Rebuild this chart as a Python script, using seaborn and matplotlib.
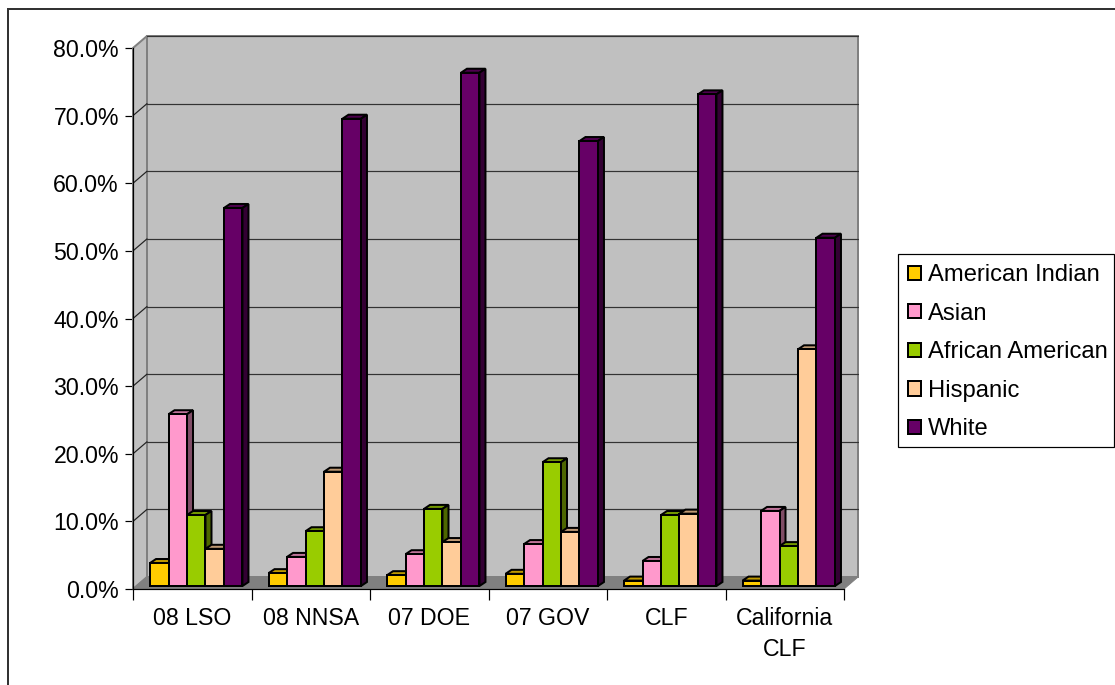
import numpy as np
import pandas as pd
import matplotlib
matplotlib.use("Agg")
import matplotlib.pyplot as plt
import seaborn as sns
from matplotlib.colors import to_rgb
from matplotlib.patches import Polygon, Patch, Rectangle
from matplotlib.transforms import Affine2D

categories = ["08 LSO", "08 NNSA", "07 DOE", "07 GOV", "CLF", "California\nCLF"]
american_indian = [3.4, 1.9, 1.6, 1.8, 0.8, 0.8]
asian = [25.4, 4.3, 4.7, 6.2, 3.7, 11.1]
african_american = [10.5, 8.1, 11.4, 18.3, 10.5, 5.9]
hispanic = [5.5, 16.9, 6.5, 8.0, 10.7, 35.0]
white = [55.9, 69.1, 75.9, 65.8, 72.7, 51.5]

series_names = ["American Indian", "Asian", "African American", "Hispanic", "White"]
series_colors = ["#FFCC00", "#FF99CC", "#99CC00", "#FFCC99", "#660066"]
y_ticks = [0, 10, 20, 30, 40, 50, 60, 70, 80]

W, H = 1115, 685
WALL_DX, WALL_DY = 14, 12   # depth of the fake 3d box, px
BAR_DX, BAR_DY = 4, 3       # bars stand a little inside the box
DEPTH_X, DEPTH_Y = 6, 4     # depth of one bar, px
PX = 0.72                   # one pixel in points at dpi 100

sns.set_theme(style="white")
plt.rcParams["font.family"] = ["Liberation Sans", "DejaVu Sans"]

df = pd.DataFrame({"category": categories,
                   "American Indian": american_indian,
                   "Asian": asian,
                   "African American": african_american,
                   "Hispanic": hispanic,
                   "White": white})
df = df.melt(id_vars="category", var_name="group", value_name="share")

fig = plt.figure(figsize=(W / 100, H / 100), dpi=100, facecolor="white")
ax = fig.add_axes([133 / W, 1 - 589 / H, 711 / W, 541 / H])
ax.patch.set_visible(False)

sns.barplot(data=df, x="category", y="share", hue="group", order=categories,
            hue_order=series_names, palette=series_colors, width=0.78, gap=0,
            saturation=1, errorbar=None, legend=False, ax=ax)
ax.set_xlim(-0.5, 5.5)
ax.set_ylim(0, 80)
ax.set_xlabel("")
ax.set_ylabel("")

# box walls, floor and grid
x0, x1 = ax.get_xlim()
back = Affine2D().translate(WALL_DX, WALL_DY)
back_tr = ax.transData + back
to_px = ax.transData.transform


def px_poly(points, **kw):
    ax.add_patch(Polygon(points, closed=True, transform=None, clip_on=False, **kw))


(fx0, fy0), (fx1, fy1) = to_px((x0, 0)), to_px((x1, 80))
px_poly([(fx0 + WALL_DX, fy0 + WALL_DY), (fx1 + WALL_DX, fy0 + WALL_DY),
         (fx1 + WALL_DX, fy1 + WALL_DY), (fx0 + WALL_DX, fy1 + WALL_DY)],
        facecolor="#C0C0C0", edgecolor="#808080", lw=2 * PX, zorder=0.5)
px_poly([(fx0, fy0), (fx0 + WALL_DX, fy0 + WALL_DY),
         (fx0 + WALL_DX, fy1 + WALL_DY), (fx0, fy1)],
        facecolor="#C0C0C0", edgecolor="#808080", lw=2 * PX, zorder=0.6)
for t in y_ticks[1:]:
    ax.plot([x0, x1], [t, t], color="#333333", lw=1.2 * PX, transform=back_tr,
            clip_on=False, zorder=1)
    _, py = to_px((x0, t))
    ax.add_line(plt.Line2D([fx0, fx0 + WALL_DX], [py, py + WALL_DY], color="#222222",
                           lw=1.2 * PX, transform=None, zorder=1))
px_poly([(fx0, fy0), (fx1, fy0), (fx1 + WALL_DX, fy0 + WALL_DY),
         (fx0 + WALL_DX, fy0 + WALL_DY)],
        facecolor="#808080", edgecolor="#808080", lw=1 * PX, zorder=1.2)

# bars: shift into the box and give them a top and a side
bar_tr = ax.transData + Affine2D().translate(BAR_DX, BAR_DY)
for h, container in enumerate(ax.containers):
    base = np.array(to_rgb(series_colors[h]))
    for bar in container:
        z = 3 + (bar.get_x() + 1) * 10
        bar.set_transform(bar_tr)
        bar.set_edgecolor("black")
        bar.set_linewidth(2 * PX)
        bar.set_clip_on(False)
        bar.set_zorder(z)
        (l, b) = to_px((bar.get_x(), 0)) + (BAR_DX, BAR_DY)
        (r, t) = to_px((bar.get_x() + bar.get_width(), bar.get_height())) + (BAR_DX, BAR_DY)
        px_poly([(l, t), (r, t), (r + DEPTH_X, t + DEPTH_Y), (l + DEPTH_X, t + DEPTH_Y)],
                facecolor=base * 0.75, edgecolor="black", lw=2 * PX, zorder=z - 0.001)
        px_poly([(r, b), (r, t), (r + DEPTH_X, t + DEPTH_Y), (r + DEPTH_X, b + DEPTH_Y)],
                facecolor=base * 0.5, edgecolor="black", lw=2 * PX, zorder=z - 0.001)

# axes
sns.despine(ax=ax, top=True, right=True)
for side in ["left", "bottom"]:
    ax.spines[side].set_color("black")
    ax.spines[side].set_linewidth(1.2 * PX)
ax.set_yticks(y_ticks)
ax.set_yticklabels([f"{t:.1f}%" for t in y_ticks])
ax.set_xticks(np.arange(len(categories) + 1) - 0.5)
ax.set_xticklabels([])
ax.set_xticks(np.arange(len(categories)), minor=True)
ax.set_xticklabels(categories, minor=True, linespacing=1.42)
ax.tick_params(axis="y", left=True, length=8 * PX, width=1.2 * PX, color="black",
               pad=6 * PX, labelsize=16.7, labelcolor="black")
ax.tick_params(axis="x", which="major", bottom=True, length=11 * PX, width=1.2 * PX,
               color="black")
ax.tick_params(axis="x", which="minor", bottom=False, length=0, pad=18 * PX,
               labelsize=16.7, labelcolor="black")

handles = [Patch(facecolor=c, edgecolor="black", lw=2 * PX, label=n)
           for n, c in zip(series_names, series_colors)]
fig.legend(handles=handles, loc="upper left", bbox_to_anchor=(898 / W, 1 - 254.5 / H),
           fontsize=17.1, frameon=False, labelcolor="black", handlelength=0.55,
           handleheight=0.55, handletextpad=0.3, labelspacing=0.695, borderpad=0.41,
           borderaxespad=0)
fig.add_artist(Rectangle((898 / W, 1 - 447 / H), 216 / W, 193 / H,
                         transform=fig.transFigure, facecolor="none", edgecolor="black",
                         lw=1.2 * PX))

# outer frame of the chart
fig.add_artist(Rectangle((8 / W, -0.1), 1.2, 1 - 9 / H + 0.1, transform=fig.transFigure,
                         facecolor="none", edgecolor="#333333", lw=2 * PX))

fig.savefig("out.png", dpi=100)
